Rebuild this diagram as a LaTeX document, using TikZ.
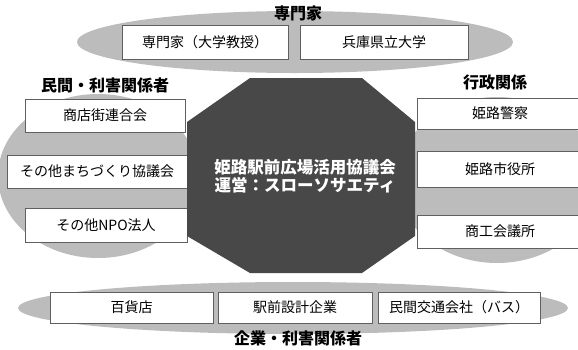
\documentclass[tikz,border=0pt]{standalone}
\usepackage{fontspec}
\setmainfont{Noto Sans CJK JP}
\usetikzlibrary{positioning}
\definecolor{ringgray}{RGB}{188,188,188}
\definecolor{coregray}{RGB}{72,72,72}
\definecolor{edgegray}{RGB}{95,95,95}

\begin{document}
\begin{tikzpicture}[x=1pt,y=-1pt,
    member/.style={draw=edgegray, line width=0.6pt, fill=white, inner sep=0pt,
      minimum height=33pt, font=\fontsize{14}{16}\selectfont},
    grouplabel/.style={inner sep=0pt, font=\fontsize{16}{18}\selectfont\bfseries}]
  \clip (0,0) rectangle (578,349);
  \fill[white] (0,0) rectangle (578,349);
  % gray groups
  \fill[ringgray] (295,42) ellipse (218 and 31);
  \fill[ringgray] (98,176) ellipse (100 and 82);
  \fill[ringgray] (497,180) ellipse (100 and 83);
  \fill[ringgray] (293,308) ellipse (275 and 26);
  % experts
  \node[member, minimum width=166, minimum height=34] (prof) at (205,42) {専門家（大学教授）};
  \node[member, minimum width=168, minimum height=34] (hyogo) at (384,42) {兵庫県立大学};
  % private stakeholders
  \node[member, minimum width=160] (shoten) at (105,115.5) {商店街連合会};
  \node[member, minimum width=180] (machi) at (97,171.5) {その他まちづくり協議会};
  \node[member, minimum width=162, minimum height=34] (npo) at (106,225) {その他NPO法人};
  % administration
  \node[member, minimum width=166, minimum height=31] (police) at (500,113.5) {姫路警察};
  \node[member, minimum width=166, minimum height=36] (city) at (500,169) {姫路市役所};
  \node[member, minimum width=166] (cci) at (500,231.5) {商工会議所};
  % companies
  \node[member, minimum width=163, minimum height=31] (depart) at (131.5,307.5) {百貨店};
  \node[member, minimum width=154, minimum height=31] (design) at (295,307.5) {駅前設計企業};
  \node[member, minimum width=162, minimum height=31] (bus) at (459,307.5) {民間交通会社（バス）};
  % central council
  \fill[coregray] (250,78) -- (362,78) -- (415,122) -- (415,236) -- (362,273)
    -- (250,273) -- (187,236) -- (187,122) -- cycle;
  \node[white, align=center, font=\fontsize{16.5}{18}\selectfont\bfseries] (core) at (305,176)
    {姫路駅前広場活用協議会\\運営：スローソサエティ};
  % group labels
  \node[grouplabel] (toplabel) at (298,13) {専門家};
  \node[grouplabel] (leftlabel) at (105,85) {民間・利害関係者};
  \node[grouplabel] (rightlabel) at (495,82) {行政関係};
  \node[grouplabel] (bottomlabel) at (298,338) {企業・利害関係者};
\end{tikzpicture}
\end{document}
